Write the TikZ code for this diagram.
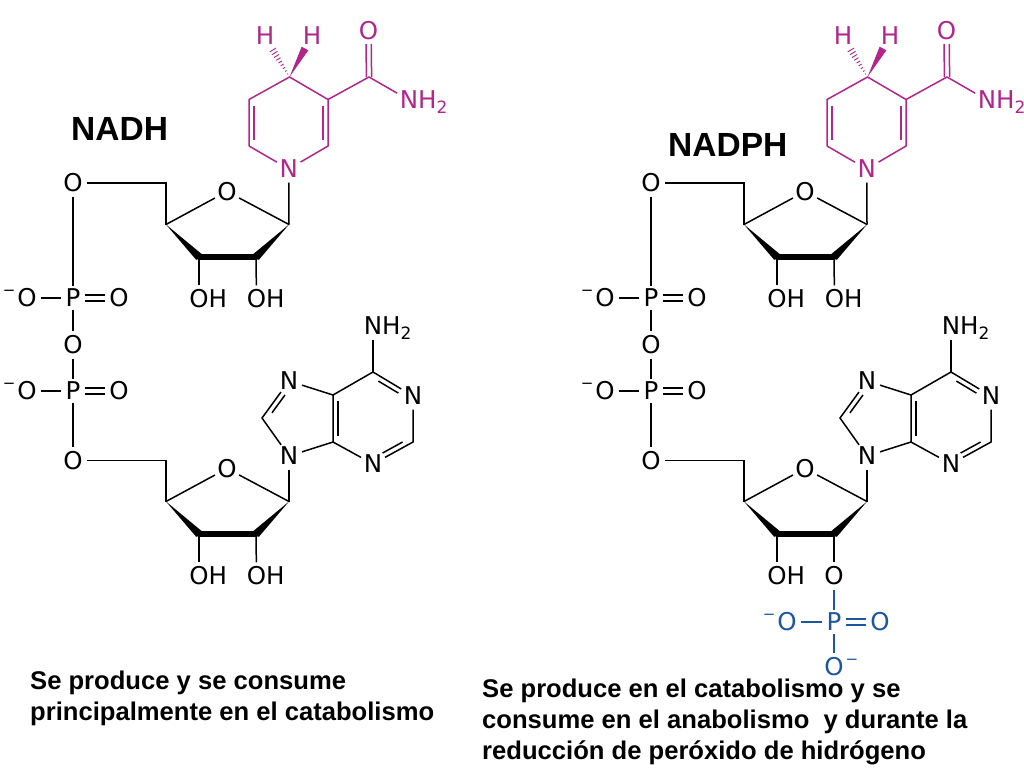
\documentclass[tikz,border=0pt]{standalone}
\usepackage{fontspec}
\setmainfont{Liberation Sans}
\newfontfamily\atomfam{DejaVu Sans}
\usetikzlibrary{calc}
\definecolor{nicmag}{RGB}{178,38,140}
\definecolor{phosblue}{RGB}{28,86,156}
\newcommand{\atomfont}{\atomfam\fontsize{24.5}{24.5}\selectfont}
\newcommand{\withH}{\rlap{H}}
\newcommand{\withNHtwo}{\rlap{H\smash{\raisebox{-5pt}{\fontsize{17}{17}\selectfont 2}}}}
\newcommand{\minusL}{\llap{\smash{\raisebox{11pt}{\fontsize{15}{15}\selectfont −}}\kern2pt}}
\newcommand{\minusR}{\rlap{\kern2pt\smash{\raisebox{11pt}{\fontsize{15}{15}\selectfont −}}}}
\newcommand{\wedgebond}[3]{%
  \fill ($(#1)$) -- ($(#2)!#3!90:(#1)$) -- ($(#2)!#3!-90:(#1)$) -- cycle;}
\tikzset{
  atom/.style={circle,inner sep=0pt,minimum size=27pt,font=\atomfont},
  patom/.style={circle,inner sep=0pt,minimum size=22pt,font=\atomfont},
  hatom/.style={circle,inner sep=0pt,minimum size=10pt,font=\atomfont},
  bond/.style={line width=1.5pt},
  oxodouble/.style={line width=1.4pt,double,double distance=4.6pt},
  heavy/.style={line width=6.5pt,line cap=round},
  title/.style={font=\bfseries\fontsize{33.5}{33.5}\selectfont,inner sep=0pt,anchor=base west},
  caption/.style={font=\bfseries\fontsize{25.6}{31}\selectfont,inner sep=0pt,anchor=north west,align=left},
}
\newcommand{\sugar}[2]{%
  \node[atom] (#1O) at (227,#2-33) {O};
  \coordinate (#1c1) at (289,#2);
  \coordinate (#1c2) at (256,#2+32.5);
  \coordinate (#1c3) at (199,#2+32.5);
  \coordinate (#1c4) at (166,#2);
  \draw[bond] (#1O) -- (#1c1);
  \draw[bond] (#1O) -- (#1c4);
  \wedgebond{#1c4}{#1c3}{4pt}
  \wedgebond{#1c1}{#1c2}{4pt}
  \draw[heavy] (#1c3) -- (#1c2);
}
\newcommand{\commonpart}{%
  \begin{scope}[color=nicmag,text=nicmag,every path/.append style={color=nicmag}]
    \node[atom] (nN) at (288.7,169) {N};
    \coordinate (n2) at (328,146);
    \coordinate (n3) at (328,99.5);
    \coordinate (n4) at (289.5,77);
    \coordinate (n5) at (249,99.5);
    \coordinate (n6) at (249,146);
    \coordinate (nC) at (369,77);
    \node[atom] (nOx) at (368.5,31) {O};
    \node[atom] (nNH) at (409,100) {N\withNHtwo};
    \node[hatom] (nHa) at (265,36) {H};
    \node[hatom] (nHb) at (312,36) {H};
    \coordinate (nHaEnd) at (271,47);
    \coordinate (nHbEnd) at (305,48.5);
    \draw[bond] (nN) -- (n6);
    \draw[bond] (n6) -- (n5) -- (n4) -- (n3) -- (n2) -- (nN);
    \draw[bond] ($(n5)!.13!(n6)!5pt!90:(n6)$) -- ($(n6)!.13!(n5)!5pt!-90:(n5)$);
    \draw[bond] ($(n3)!.13!(n2)!5pt!-90:(n2)$) -- ($(n2)!.13!(n3)!5pt!90:(n3)$);
    \draw[bond] (n3) -- (nC) -- (nNH);
    \draw[bond,shorten >=13pt] ($(nC)!2.6pt!90:(nOx)$) -- ($(nOx)!2.6pt!-90:(nC)$);
    \draw[bond,shorten >=13pt] ($(nC)!2.6pt!-90:(nOx)$) -- ($(nOx)!2.6pt!90:(nC)$);
    \wedgebond{n4}{nHbEnd}{3.8pt}
    \foreach \t/\w in {.1/.5,.2/.9,.3/1.3,.4/1.7,.5/2.1,.6/2.5,.7/2.9,.8/3.3,.9/3.7}{
      \draw[line width=.9pt] ($(n4)!\t!(nHaEnd)!\w pt!90:(nHaEnd)$) -- ($(n4)!\t!(nHaEnd)!\w pt!-90:(nHaEnd)$);
    }
  \end{scope}
  \sugar{u}{224.5}
  \coordinate (uc5) at (166,183);
  \node[atom] (uO5) at (73,183) {O};
  \node[atom] (uOH3) at (199,299) {O\withH};
  \node[atom] (uOH2) at (256.5,299) {O\withH};
  \draw[bond] (nN) -- (uc1);
  \draw[bond] (uc4) -- (uc5) -- (uO5);
  \draw[bond] (uc3) -- (uOH3);
  \draw[bond] (uc2) -- (uOH2);
  \node[patom] (P1) at (73,298) {P};
  \node[atom] (P1l) at (27,298) {\minusL O};
  \node[atom] (P1r) at (119,298) {O};
  \node[atom] (Obr) at (73,345) {O};
  \node[patom] (P2) at (73,391) {P};
  \node[atom] (P2l) at (27,391) {\minusL O};
  \node[atom] (P2r) at (119,391) {O};
  \node[atom] (lO5) at (73,460.5) {O};
  \draw[bond] (uO5) -- (P1);
  \draw[bond] (P1l) -- (P1);
  \draw[oxodouble] (P1) -- (P1r);
  \draw[bond] (P1) -- (Obr);
  \draw[bond] (Obr) -- (P2);
  \draw[bond] (P2l) -- (P2);
  \draw[oxodouble] (P2) -- (P2r);
  \draw[bond] (P2) -- (lO5);
  \sugar{l}{501.5}
  \coordinate (lc5) at (166,460.5);
  \node[atom] (lOH3) at (199,576) {O\withH};
  \draw[bond] (lc4) -- (lc5) -- (lO5);
  \draw[bond] (lc3) -- (lOH3);
  \node[atom] (aN9) at (289,456) {N};
  \coordinate (aC8) at (262,418);
  \node[atom] (aN7) at (289,381) {N};
  \coordinate (aC5) at (333,395);
  \coordinate (aC4) at (333,442);
  \node[atom] (aN3) at (373,464) {N};
  \coordinate (aC2) at (413,442);
  \node[atom] (aN1) at (413,396) {N};
  \coordinate (aC6) at (373,372);
  \node[atom] (aNH) at (373,326) {N\withNHtwo};
  \draw[bond] (aN9) -- (lc1);
  \draw[bond] (aN9) -- (aC8) -- (aN7) -- (aC5) -- (aC4) -- (aN9);
  \draw[bond] (aC4) -- (aN3) -- (aC2) -- (aN1) -- (aC6) -- (aC5);
  \draw[bond] (aC6) -- (aNH);
  \draw[bond] ($(aC8)!.22!(aN7)!5pt!-90:(aN7)$) -- ($(aN7)!.3!(aC8)!5pt!90:(aC8)$);
  \draw[bond] ($(aC5)!.13!(aC4)!5pt!90:(aC4)$) -- ($(aC4)!.13!(aC5)!5pt!-90:(aC5)$);
  \draw[bond] ($(aC6)!.2!(aN1)!5pt!-90:(aN1)$) -- ($(aN1)!.3!(aC6)!5pt!90:(aC6)$);
  \draw[bond] ($(aC2)!.2!(aN3)!5pt!-90:(aN3)$) -- ($(aN3)!.3!(aC2)!5pt!90:(aC2)$);
}
\begin{document}
\begin{tikzpicture}[x=1pt,y=-1pt]
\useasboundingbox (0,0) rectangle (1024,768);
\fill[white] (0,0) rectangle (1024,768);
\begin{scope}[name prefix=L-]
  \commonpart
  \node[atom] (OH2b) at (256.5,576) {O\withH};
  \draw[bond] (lc2) -- (OH2b);
\end{scope}
\begin{scope}[shift={(578,0)},name prefix=R-]
  \commonpart
  \node[atom] (Oph) at (256,576) {O};
  \draw[bond] (lc2) -- (Oph);
  \begin{scope}[every path/.append style={color=phosblue}]
    \node[patom,text=phosblue] (Pb) at (256,622) {P};
    \node[atom,text=phosblue] (Pbl) at (209,622) {\minusL O};
    \node[atom,text=phosblue] (Pbr) at (302,622) {O};
    \node[atom,text=phosblue] (Pbb) at (256,667) {O\minusR};
    \draw[bond] (Oph) -- (Pb);
    \draw[bond] (Pbl) -- (Pb);
    \draw[oxodouble] (Pb) -- (Pbr);
    \draw[bond] (Pb) -- (Pbb);
  \end{scope}
\end{scope}
\node[title] (tNADH) at (71,140) {NADH};
\node[title] (tNADPH) at (668,156) {NADPH};
\node[caption] (capL) at (30,670.5) {Se produce y se consume\\principalmente en el catabolismo};
\node[caption] (capR) at (482,678.5) {Se produce en el catabolismo y se\\consume en el anabolismo\ \ y durante la\\reducción de peróxido de hidrógeno};
\end{tikzpicture}
\end{document}
